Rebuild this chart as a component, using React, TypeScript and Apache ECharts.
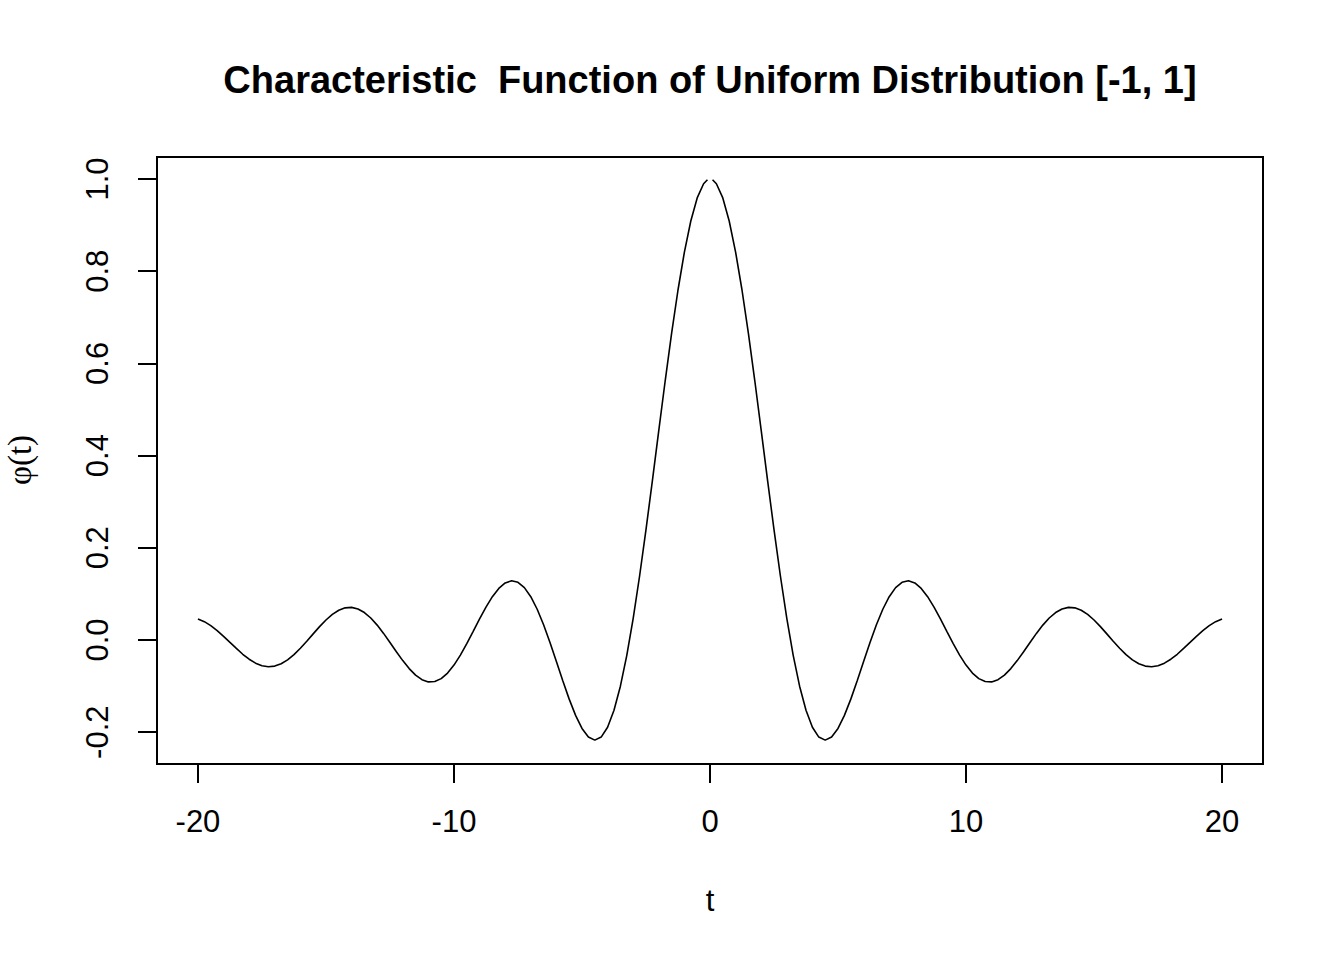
import React, { useEffect, useRef } from "react";
import * as echarts from "echarts";

const tValues: number[] = [
  -20, -19.75, -19.5, -19.25, -19, -18.75, -18.5, -18.25, -18, -17.75, -17.5, -17.25, -17, -16.75,
  -16.5, -16.25, -16, -15.75, -15.5, -15.25, -15, -14.75, -14.5, -14.25, -14, -13.75, -13.5, -13.25,
  -13, -12.75, -12.5, -12.25, -12, -11.75, -11.5, -11.25, -11, -10.75, -10.5, -10.25, -10, -9.75,
  -9.5, -9.25, -9, -8.75, -8.5, -8.25, -8, -7.75, -7.5, -7.25, -7, -6.75, -6.5, -6.25, -6, -5.75,
  -5.5, -5.25, -5, -4.75, -4.5, -4.25, -4, -3.75, -3.5, -3.25, -3, -2.75, -2.5, -2.25, -2, -1.75,
  -1.5, -1.25, -1, -0.75, -0.5, -0.25, -0.1, 0, 0.1, 0.25, 0.5, 0.75, 1, 1.25, 1.5, 1.75, 2, 2.25,
  2.5, 2.75, 3, 3.25, 3.5, 3.75, 4, 4.25, 4.5, 4.75, 5, 5.25, 5.5, 5.75, 6, 6.25, 6.5, 6.75, 7,
  7.25, 7.5, 7.75, 8, 8.25, 8.5, 8.75, 9, 9.25, 9.5, 9.75, 10, 10.25, 10.5, 10.75, 11, 11.25, 11.5,
  11.75, 12, 12.25, 12.5, 12.75, 13, 13.25, 13.5, 13.75, 14, 14.25, 14.5, 14.75, 15, 15.25, 15.5,
  15.75, 16, 16.25, 16.5, 16.75, 17, 17.25, 17.5, 17.75, 18, 18.25, 18.5, 18.75, 19, 19.25, 19.5,
  19.75, 20,
];

const phiValues: (number | null)[] = [
  0.0456, 0.0397, 0.0311, 0.0202, 0.0079, -0.0053, -0.0183, -0.031, -0.0417, -0.0502, -0.0557,
  -0.0579, -0.0566, -0.0516, -0.0431, -0.0317, -0.018, -0.0027, 0.0133, 0.029, 0.0434, 0.0555,
  0.0645, 0.0697, 0.0708, 0.0673, 0.0595, 0.0477, 0.0323, 0.0143, -0.0053, -0.0254, -0.0447,
  -0.062, -0.0761, -0.086, -0.0909, -0.0902, -0.0838, -0.0717, -0.0544, -0.0328, -0.0079, 0.0188,
  0.0458, 0.0714, 0.0939, 0.1119, 0.1237, 0.1284, 0.1251, 0.1136, 0.0939, 0.0667, 0.0331, -0.0053,
  -0.0466, -0.0884, -0.1283, -0.1636, -0.1918, -0.2104, -0.2172, -0.2106, -0.1892, -0.1524,
  -0.1002, -0.0333, 0.047, 0.1388, 0.2394, 0.3458, 0.4546, 0.5623, 0.665, 0.7592, 0.8415, 0.9089,
  0.9589, 0.9896, 0.9983, null, 0.9983, 0.9896, 0.9589, 0.9089, 0.8415, 0.7592, 0.665, 0.5623,
  0.4546, 0.3458, 0.2394, 0.1388, 0.047, -0.0333, -0.1002, -0.1524, -0.1892, -0.2106, -0.2172,
  -0.2104, -0.1918, -0.1636, -0.1283, -0.0884, -0.0466, -0.0053, 0.0331, 0.0667, 0.0939, 0.1136,
  0.1251, 0.1284, 0.1237, 0.1119, 0.0939, 0.0714, 0.0458, 0.0188, -0.0079, -0.0328, -0.0544,
  -0.0717, -0.0838, -0.0902, -0.0909, -0.086, -0.0761, -0.062, -0.0447, -0.0254, -0.0053, 0.0143,
  0.0323, 0.0477, 0.0595, 0.0673, 0.0708, 0.0697, 0.0645, 0.0555, 0.0434, 0.029, 0.0133, -0.0027,
  -0.018, -0.0317, -0.0431, -0.0516, -0.0566, -0.0579, -0.0557, -0.0502, -0.0417, -0.031, -0.0183,
  -0.0053, 0.0079, 0.0202, 0.0311, 0.0397, 0.0456,
];

const xTicks: number[] = [-20, -10, 0, 10, 20];
const yTicks: number[] = [-0.2, 0, 0.2, 0.4, 0.6, 0.8, 1.0];

const titleText = "Characteristic  Function of Uniform Distribution [-1, 1]";
const xLabel = "t";
const yLabel = "φ(t)";

export default function App() {
  const ref = useRef<HTMLDivElement>(null);
  useEffect(() => {
    document.body.style.margin = "0";
    if (!ref.current) return;
    const chart = echarts.init(ref.current, undefined, { renderer: "svg" });
    const font = "Liberation Sans, Arial, sans-serif";
    chart.setOption({
      animation: false,
      backgroundColor: "#ffffff",
      grid: {
        left: 157,
        top: 157,
        width: 1106,
        height: 607,
        show: true,
        borderColor: "#000",
        borderWidth: 2,
        backgroundColor: "transparent",
      },
      xAxis: {
        type: "value",
        min: -21.6,
        max: 21.6,
        axisLine: { show: false, onZero: false },
        splitLine: { show: false },
        axisTick: {
          show: true,
          inside: false,
          length: 19,
          customValues: xTicks,
          lineStyle: { color: "#000", width: 2 },
        },
        axisLabel: {
          show: true,
          customValues: xTicks,
          margin: 42,
          color: "#000",
          fontSize: 31,
          fontFamily: font,
          formatter: (v: number) => String(v),
        },
      },
      yAxis: {
        type: "value",
        min: -0.269,
        max: 1.0477,
        axisLine: { show: false, onZero: false },
        splitLine: { show: false },
        axisTick: {
          show: true,
          inside: false,
          length: 19,
          customValues: yTicks,
          lineStyle: { color: "#000", width: 2 },
        },
        axisLabel: {
          show: true,
          customValues: yTicks,
          rotate: 90,
          margin: 44,
          color: "#000",
          fontSize: 31,
          fontFamily: font,
          formatter: (v: number) => v.toFixed(1),
        },
      },
      graphic: [
        {
          type: "text",
          x: 710,
          y: 80,
          style: {
            text: titleText,
            font: `bold 38px ${font}`,
            fill: "#000",
            textAlign: "center",
            textVerticalAlign: "middle",
          },
        },
        {
          type: "text",
          x: 710,
          y: 900,
          style: {
            text: xLabel,
            font: `31px ${font}`,
            fill: "#000",
            textAlign: "center",
            textVerticalAlign: "middle",
          },
        },
        {
          type: "text",
          x: 20,
          y: 460,
          rotation: Math.PI / 2,
          style: {
            text: yLabel,
            font: `33px Liberation Serif, serif`,
            fill: "#000",
            textAlign: "center",
            textVerticalAlign: "middle",
          },
        },
      ],
      series: [
        {
          type: "line",
          data: tValues.map((t, i) => [t, phiValues[i]]),
          showSymbol: false,
          smooth: false,
          connectNulls: false,
          lineStyle: { color: "#000", width: 1.6 },
          itemStyle: { color: "#000" },
        },
      ],
    });
    return () => chart.dispose();
  }, []);
  return <div ref={ref} style={{ width: 1344, height: 960 }} />;
}
